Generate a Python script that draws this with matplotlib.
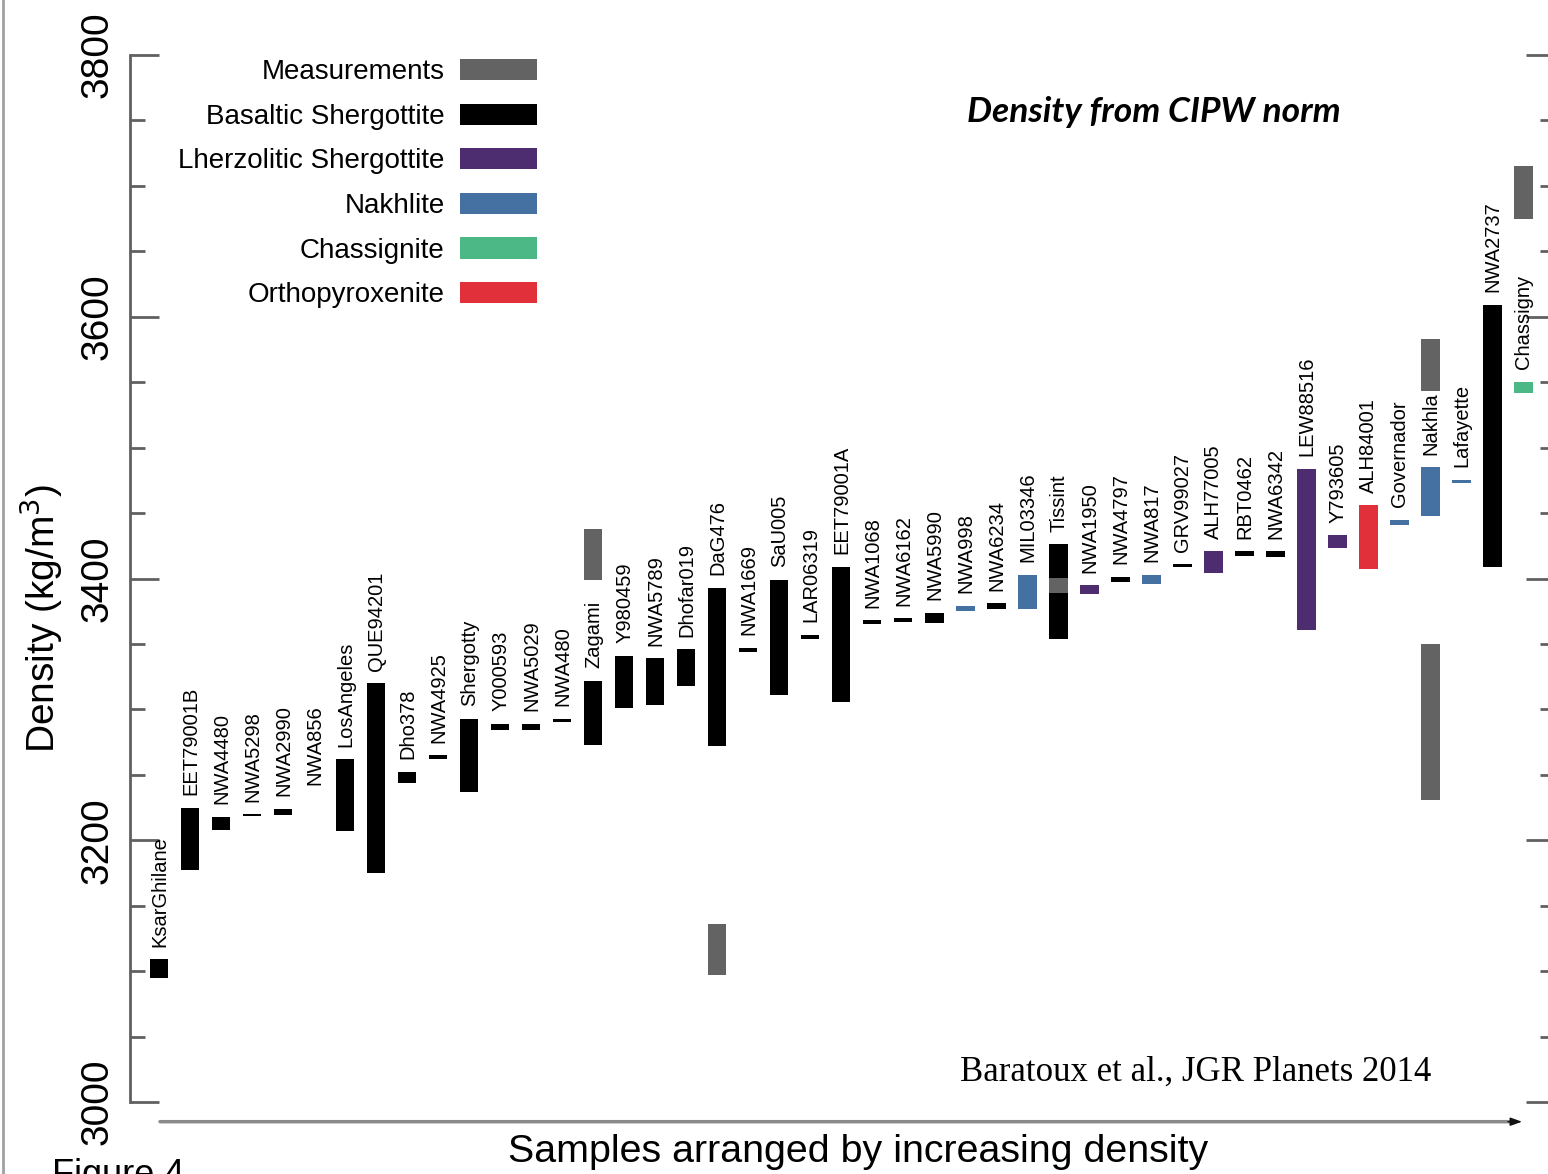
import matplotlib.pyplot as plt
from matplotlib.patches import Patch
from matplotlib.lines import Line2D

plt.rcParams['font.family'] = ['Liberation Sans', 'DejaVu Sans']

# samples, in order of increasing density
samples = ['KsarGhilane', 'EET79001B', 'NWA4480', 'NWA5298', 'NWA2990', 'NWA856',
           'LosAngeles', 'QUE94201', 'Dho378', 'NWA4925', 'Shergotty', 'Y000593',
           'NWA5029', 'NWA480', 'Zagami', 'Y980459', 'NWA5789', 'Dhofar019',
           'DaG476', 'NWA1669', 'SaU005', 'LAR06319', 'EET79001A', 'NWA1068',
           'NWA6162', 'NWA5990', 'NWA998', 'NWA6234', 'MIL03346', 'Tissint',
           'NWA1950', 'NWA4797', 'NWA817', 'GRV99027', 'ALH77005', 'RBT0462',
           'NWA6342', 'LEW88516', 'Y793605', 'ALH84001', 'Governador', 'Nakhla',
           'Lafayette', 'NWA2737', 'Chassigny']

# B basaltic, L lherzolitic, N nakhlite, C chassignite, O orthopyroxenite
groups = ['B', 'B', 'B', 'B', 'B', 'B', 'B', 'B', 'B', 'B', 'B', 'B', 'B', 'B', 'B',
          'B', 'B', 'B', 'B', 'B', 'B', 'B', 'B', 'B', 'B', 'B', 'N', 'B', 'N', 'B',
          'L', 'B', 'N', 'B', 'L', 'B', 'B', 'L', 'L', 'O', 'N', 'N', 'N', 'B', 'C']

# density range from CIPW norm (kg/m3)
cipw_lo = [3095, 3177, 3208, 3218.5, 3219, 3232.7, 3207, 3175, 3243.5, 3262,
           3237, 3284, 3284, 3290, 3273, 3301, 3303, 3318, 3272, 3344,
           3311, 3354, 3306, 3365, 3367, 3366, 3375, 3377, 3377, 3354,
           3388, 3397.5, 3396, 3408.5, 3404, 3417, 3416.5, 3361, 3423, 3407,
           3440.5, 3448, 3473, 3409, 3541.5]
cipw_hi = [3109, 3225, 3218, 3220, 3224, 3233, 3262, 3320, 3252.5, 3265,
           3293, 3289, 3289, 3293, 3322, 3341, 3339, 3346, 3393, 3347,
           3399, 3357, 3409, 3368, 3369.5, 3374, 3379, 3381, 3403, 3426,
           3395, 3401.5, 3403, 3411, 3421, 3421, 3421, 3484, 3433, 3456,
           3445, 3485, 3475.5, 3609, 3550.5]

# measured densities
meas_sample = ['Zagami', 'DaG476', 'Tissint', 'Nakhla', 'Nakhla', 'Chassigny']
meas_lo = [3399, 3097, 3389, 3543, 3231, 3675]
meas_hi = [3438, 3136, 3400, 3583, 3350, 3715]

colors = {'M': '#636363', 'B': '#000000', 'L': '#4e2c70',
          'N': '#4570a2', 'C': '#4cb886', 'O': '#e2303a'}
legend_names = [('M', 'Measurements'), ('B', 'Basaltic Shergottite'),
                ('L', 'Lherzolitic Shergottite'), ('N', 'Nakhlite'),
                ('C', 'Chassignite'), ('O', 'Orthopyroxenite')]

W, H = 1548, 1174
fig = plt.figure(figsize=(W / 100, H / 100), dpi=100)
ax = fig.add_axes([129.5 / W, 1 - 1102 / H, 1425.5 / W, 1047 / H])

xpos = list(range(1, len(samples) + 1))
bw = 0.61
ax.bar(xpos, [h - l for l, h in zip(cipw_lo, cipw_hi)], bottom=cipw_lo, width=bw,
       color=[colors[g] for g in groups], linewidth=0, zorder=2)

mx = [samples.index(s) + 1 for s in meas_sample]
ax.bar(mx, [h - l for l, h in zip(meas_lo, meas_hi)], bottom=meas_lo, width=bw,
       color=colors['M'], linewidth=0, zorder=3)

for x, name, top in zip(xpos, samples, cipw_hi):
    ax.annotate(name, (x, top), xytext=(0.5, 9), textcoords='offset points',
                rotation=90, ha='center', va='bottom', fontsize=14.5)

ax.set_xlim(0.048, 46.03)
ax.set_ylim(3000, 3800)
ax.set_yticks([3000, 3200, 3400, 3600, 3800])
ax.set_yticks(range(3000, 3801, 50), minor=True)
ax.set_xticks([])
for s in ['top', 'bottom']:
    ax.spines[s].set_visible(False)
for s in ['left', 'right']:
    ax.spines[s].set_color('#606060')
    ax.spines[s].set_linewidth(2)
ax.tick_params(axis='y', which='both', direction='in', left=True, right=True,
               color='#606060', width=2)
ax.tick_params(axis='y', which='major', length=21, labelsize=28, pad=10)
ax.tick_params(axis='y', which='minor', length=10.5)
for lab in ax.get_yticklabels():
    lab.set_rotation(90)
    lab.set_va('center')

handles = [Patch(facecolor=colors[k], edgecolor='none') for k, _ in legend_names]
ax.legend(handles, [n for _, n in legend_names], loc='upper right',
          bbox_to_anchor=(0.2859, 0.9962), markerfirst=False, frameon=False,
          borderpad=0, borderaxespad=0, fontsize=20, handlelength=2.77,
          handleheight=0.8, labelspacing=0.66, handletextpad=0.55)

ax.text(0.5875, 0.9456, 'Density from CIPW norm', transform=ax.transAxes,
        fontsize=25.5, fontweight='bold', fontstyle='italic', family='Lato',
        va='center', ha='left')

fig.text(41 / W, 1 - 619 / H, 'Density (kg/m$^3$)', rotation=90,
         ha='center', va='center', fontsize=28)
fig.text(858 / W, 1 - 1152 / H, 'Samples arranged by increasing density',
         ha='center', va='center', fontsize=28.4)
fig.text(960 / W, 1 - 1072 / H, 'Baratoux et al., JGR Planets 2014',
         ha='left', va='center', fontsize=25, family='Liberation Serif')
fig.text(52 / W, 1 - 1158 / H, 'Figure 4', ha='left', va='top', fontsize=26)

# arrow along the sample axis: grey shaft, dark head
ya = 1 - 1121.7 / H
ax.annotate('', xy=(1512 / W, ya), xytext=(160 / W, ya),
            xycoords='figure fraction', textcoords='figure fraction',
            arrowprops=dict(arrowstyle='-', color='#8a8a8a', lw=2.5,
                            shrinkA=0, shrinkB=0))
ax.annotate('', xy=(1522 / W, ya), xytext=(1508 / W, ya),
            xycoords='figure fraction', textcoords='figure fraction',
            arrowprops=dict(arrowstyle='-|>,head_length=0.7,head_width=0.25',
                            color='#111111', lw=1, shrinkA=0, shrinkB=0))

# page edge on the left
fig.add_artist(Line2D([2.5 / W, 2.5 / W], [0, 1], color='#a0a0a0', lw=2))

fig.savefig('out.png', dpi=100)
